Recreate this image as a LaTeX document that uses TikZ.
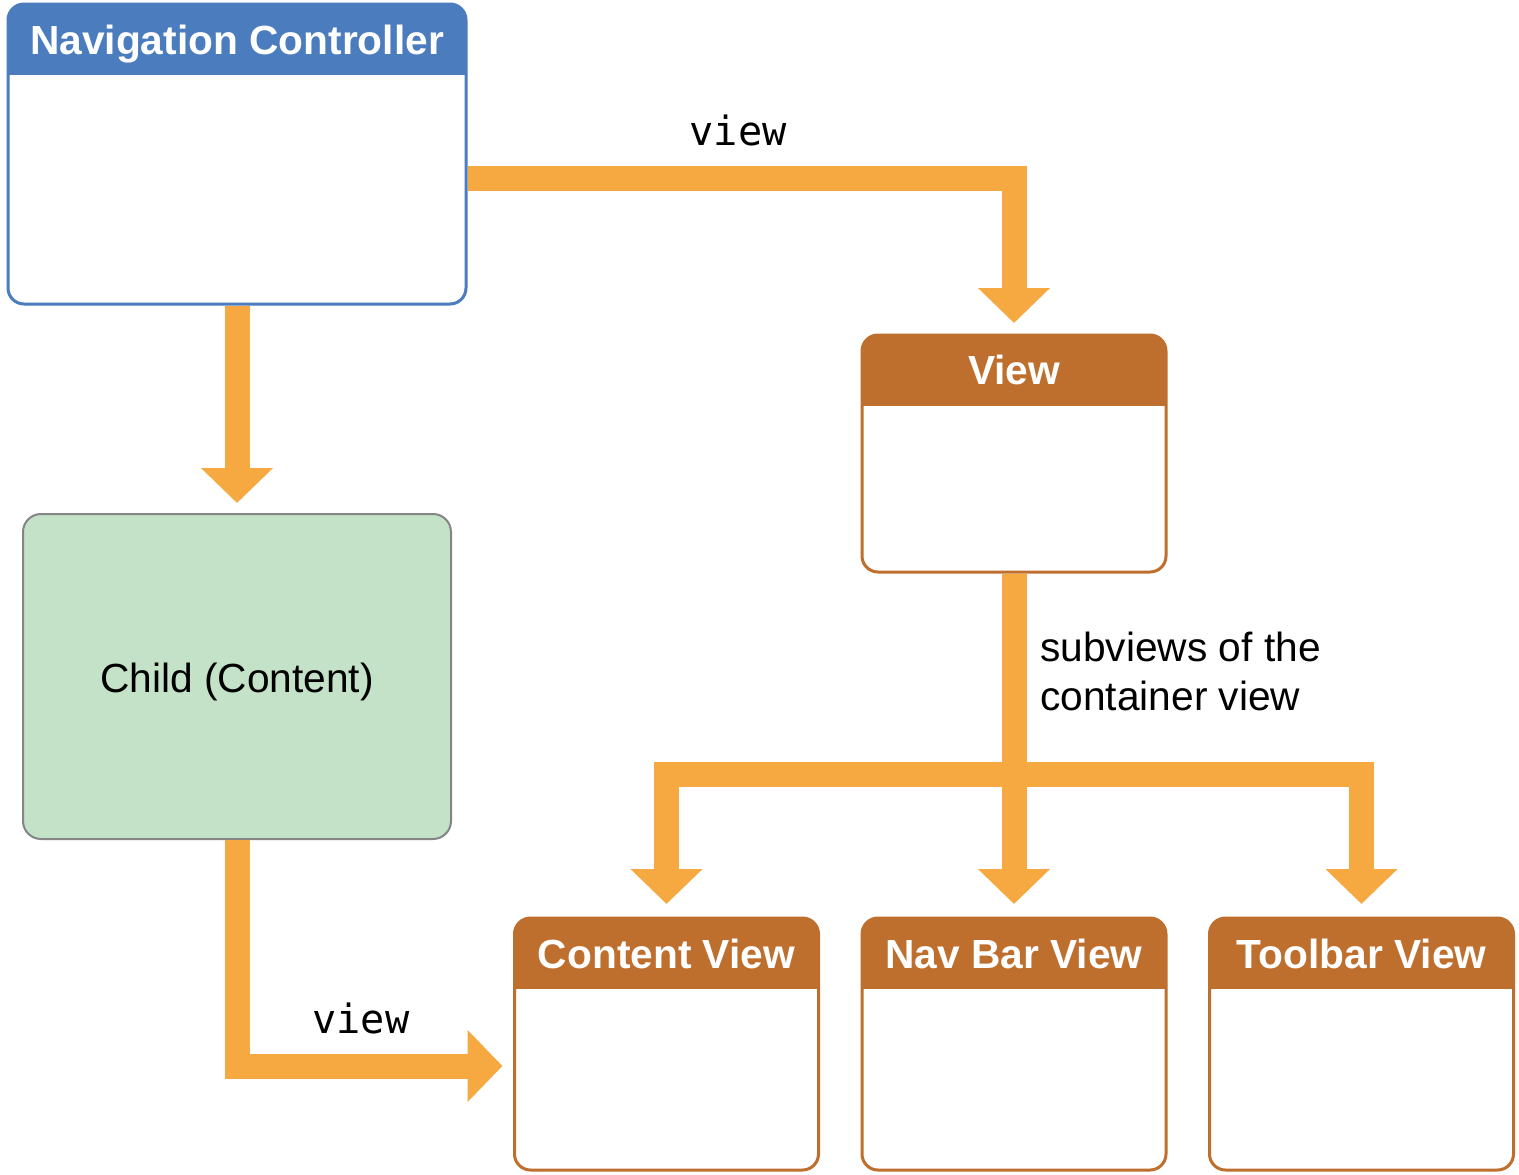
\documentclass[tikz,border=0pt]{standalone}
\usepackage{fontspec}
\setmainfont{Liberation Sans}
\setmonofont{DejaVu Sans Mono}
\usetikzlibrary{arrows.meta}

\definecolor{navblue}{HTML}{4A7CBE}
\definecolor{viewbrown}{HTML}{BE6E2D}
\definecolor{barorange}{HTML}{F7A941}
\definecolor{childgreen}{HTML}{C3E2C8}
\definecolor{childedge}{HTML}{858585}

\begin{document}
\begin{tikzpicture}[x=1pt,y=-1pt,
  % window-like box with a coloured title strip
  panel/.style={draw=#1, line width=3pt, rounded corners=16pt, fill=white,
    inner sep=0pt, outer sep=0pt, minimum width=304pt, minimum height=252pt,
    path picture={\fill[#1, sharp corners] (path picture bounding box.north west)
      rectangle ([yshift=-71pt]path picture bounding box.north east);}},
  paneltitle/.style={anchor=base, text=white, inner sep=0pt,
    font=\fontsize{40.7}{48}\selectfont\bfseries},
  plainbox/.style={draw=childedge, line width=2pt, rounded corners=18pt,
    fill=childgreen, inner sep=0pt, outer sep=0pt, text height=31pt, text depth=0pt,
    font=\fontsize{40.7}{48}\selectfont},
  bar/.style={draw=barorange, line width=25pt,
    -{Triangle[width=70pt,length=35pt]}},
  codelabel/.style={anchor=base, inner sep=0pt,
    font=\ttfamily\fontsize{40.3}{48}\selectfont},
  note/.style={anchor=base west, align=left, inner sep=0pt,
    font=\fontsize{40.7}{49}\selectfont}
]
\fill[white] (0,0) rectangle (1519,1175);
\useasboundingbox (0,0) rectangle (1519,1175);

% boxes
\node[panel=navblue, minimum width=458pt, minimum height=300pt] (nav) at (237,154) {};
\node[paneltitle] (navtitle) at ([yshift=-50pt]nav.north) {Navigation Controller};

\node[panel=viewbrown, minimum height=237pt] (view) at (1014,453.5) {};
\node[paneltitle] (viewtitle) at ([yshift=-49pt]view.north) {View};

\node[plainbox, minimum width=428pt, minimum height=325pt] (child) at (237,676.5) {Child (Content)};

\node[panel=viewbrown] (content) at (666.5,1044) {};
\node[paneltitle] (contenttitle) at ([yshift=-50pt]content.north) {Content View};

\node[panel=viewbrown] (navbar) at (1014,1044) {};
\node[paneltitle] (navbartitle) at ([yshift=-50pt]navbar.north) {Nav Bar View};

\node[panel=viewbrown] (toolbar) at (1361.5,1044) {};
\node[paneltitle] (toolbartitle) at ([yshift=-50pt]toolbar.north) {Toolbar View};

% connectors
\draw[bar, shorten <=1.5pt, shorten >=12pt] ([yshift=-24pt]nav.east) -| (view.north);
\draw[bar, shorten <=1.5pt, shorten >=11pt] (nav.south) -- (child.north);
\draw[bar, shorten <=1pt, shorten >=12pt] (child.south) |- ([yshift=-22pt]content.west);
\draw[bar, shorten <=1.5pt, shorten >=14pt] (view.south) -- (navbar.north);
\coordinate (fork) at (view.south |- 0,774.5);
\draw[bar, shorten >=14pt] (fork) -| (content.north);
\draw[bar, shorten >=14pt] (fork) -| (toolbar.north);

% labels
\node[codelabel] (toplabel) at (738,145) {view};
\node[codelabel] (bottomlabel) at (361,1033) {view};
\node[note] (subnote) at (1040,710) {subviews of the\\container view};
\end{tikzpicture}
\end{document}
